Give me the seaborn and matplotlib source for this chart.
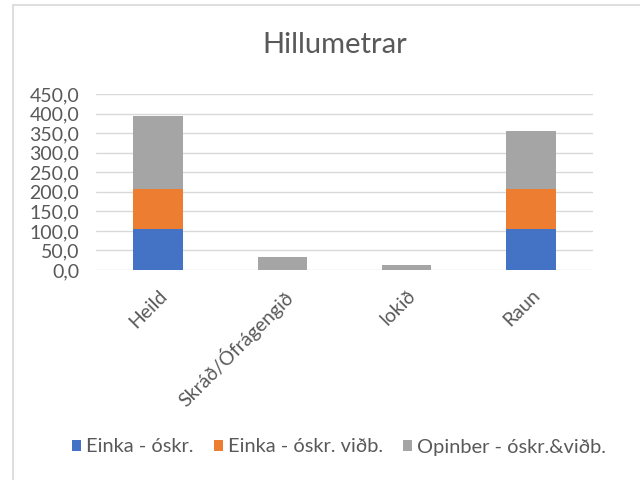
import numpy as np
import pandas as pd
import matplotlib
matplotlib.use("Agg")
import matplotlib.pyplot as plt
import seaborn as sns
from matplotlib.patches import Patch
from matplotlib.lines import Line2D
from matplotlib.ticker import FuncFormatter, MultipleLocator

# Data
categories = ["Heild", "Skráð/Ófrágengið", "lokið", "Raun"]
einka = [104, 0, 0, 104]
einka_vidb = [103, 0, 0, 103]
opinber = [187, 33, 12, 148]
series_names = ["Einka - óskr.", "Einka - óskr. viðb.", "Opinber - óskr.&viðb."]
colors = ["#4472C4", "#ED7D31", "#A5A5A5"]
text_color = "#595959"
grid_color = "#D9D9D9"

sns.set_theme(style="white")
plt.rcParams["font.family"] = ["Lato", "DejaVu Sans"]

df = pd.DataFrame({"cat": categories,
                   "a": einka, "b": einka_vidb, "c": opinber})
# cumulative heights for overlay stacking
df["top_a"] = df["a"]
df["top_b"] = df["a"] + df["b"]
df["top_c"] = df["a"] + df["b"] + df["c"]

fig = plt.figure(figsize=(6.4, 4.8), dpi=100)
ax = fig.add_axes([96 / 640, 1 - 270 / 480, (593 - 96) / 640, (270 - 94) / 480])

for col, color in zip(["top_c", "top_b", "top_a"], colors[::-1]):
    sns.barplot(data=df, x="cat", y=col, color=color, width=0.4,
                saturation=1, linewidth=0, ax=ax, zorder=3)

ax.set_ylim(0, 450)
ax.set_xlim(-0.5, 3.5)
ax.yaxis.set_major_locator(MultipleLocator(50))
ax.yaxis.set_major_formatter(FuncFormatter(lambda v, p: f"{v:.1f}".replace(".", ",")))
ax.grid(axis="y", color=grid_color, linewidth=1, zorder=0)
ax.set_axisbelow(True)
for s in ax.spines.values():
    s.set_visible(False)
ax.set_xlabel("")
ax.set_ylabel("")
ax.tick_params(axis="both", length=0, colors=text_color, labelsize=14)
ax.tick_params(axis="y", pad=12)
ax.tick_params(axis="x", pad=12)
plt.setp(ax.get_xticklabels(), rotation=45, ha="right", rotation_mode="anchor")
for lbl in ax.get_xticklabels():
    lbl.set_x(lbl.get_position()[0] + 0.05)

fig.text(335 / 640, 1 - 45 / 480, "Hillumetrar", ha="center", va="center",
         fontsize=21, color=text_color)

handles = [Patch(facecolor=c, edgecolor="none") for c in colors]
fig.legend(handles, series_names, loc="center", bbox_to_anchor=(339 / 640, 1 - 447 / 480),
           ncol=3, frameon=False, fontsize=14.4, labelcolor=text_color,
           handlelength=0.45, handleheight=0.45, handletextpad=0.25, columnspacing=1.0)

# chart area border (left and top edges visible)
fig.add_artist(Line2D([13 / 640, 13 / 640], [0, 1 - 5 / 480], transform=fig.transFigure,
                      color=grid_color, linewidth=1.2))
fig.add_artist(Line2D([13 / 640, 1], [1 - 5 / 480, 1 - 5 / 480], transform=fig.transFigure,
                      color=grid_color, linewidth=1.2))

fig.savefig("out.png", dpi=100)
